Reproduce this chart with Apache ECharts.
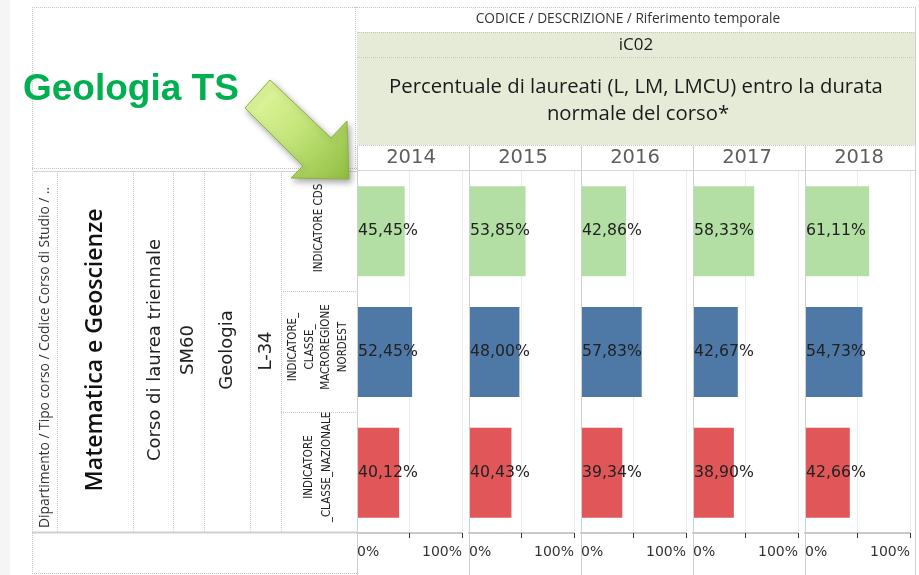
<!DOCTYPE html>
<html>
<head>
<meta charset="utf-8">
<script src="https://cdn.jsdelivr.net/npm/echarts@6/dist/echarts.min.js"></script>
<style>
html,body{margin:0;padding:0;background:#fff;}
#chart{width:919px;height:575px;}
</style>
</head>
<body>
<div id="chart"></div>
<script>
// ---- data ----
const years = ['2014', '2015', '2016', '2017', '2018'];
const indicatori = ['INDICATORE CDS', 'INDICATORE_ CLASSE_ MACROREGIONE NORDEST', 'INDICATORE _CLASSE_NAZIONALE'];
const indicatoreLabels = ['INDICATORE CDS', 'INDICATORE_\nCLASSE_\nMACROREGIONE\nNORDEST', 'INDICATORE\n_CLASSE_NAZIONALE'];
const valCDS = [45.45, 53.85, 42.86, 58.33, 61.11];
const valMacroregione = [52.45, 48.00, 57.83, 42.67, 54.73];
const valNazionale = [40.12, 40.43, 39.34, 38.90, 42.66];
const axisTickValues = [0, 50, 100];
const axisTickLabels = ['0%', '', '100%'];
const rowHeaders = ['Matematica e Geoscienze', 'Corso di laurea triennale', 'SM60', 'Geologia', 'L-34'];
const headerTitle = 'CODICE / DESCRIZIONE / Riferimento temporale';
const codice = 'iC02';
const descrizione = ['Percentuale di laureati (L, LM, LMCU) entro la durata', 'normale del corso*'];
const leftHeader = 'Dipartimento / Tipo corso / Codice Corso di Studio / ..';
const callout = 'Geologia TS';

// ---- layout / style ----
const colors = ['#b3dfa4', '#4e79a7', '#e15759'];
const colLeft0 = 357, colStep = 112, colW = 105;
const plotTop = 171, plotBottom = 533;

const chart = echarts.init(document.getElementById('chart'), null, {renderer: 'canvas'});

const grids = [], xAxes = [], yAxes = [], series = [];
years.forEach((y, i) => {
  grids.push({left: colLeft0 + colStep * i, top: plotTop, width: colW, height: plotBottom - plotTop, containLabel: false});
  xAxes.push({
    gridIndex: i, type: 'value', min: 0, max: 100, interval: 50,
    axisLine: {show: true, onZero: false, lineStyle: {color: '#c9c9c9', width: 2}},
    axisTick: {show: true, length: 5, lineStyle: {color: '#333', width: 1}},
    splitLine: {show: true, lineStyle: {color: '#ebebeb', width: 1}},
    axisLabel: {
      show: true, margin: 12, fontSize: 14, color: '#333', fontFamily: 'DejaVu Sans',
      alignMinLabel: 'left', alignMaxLabel: 'right',
      formatter: v => axisTickLabels[axisTickValues.indexOf(v)] || ''
    }
  });
  yAxes.push({
    gridIndex: i, type: 'category', data: indicatori, inverse: true,
    axisLine: {show: false}, axisTick: {show: false}, axisLabel: {show: false}, splitLine: {show: false}
  });
  const vals = [valCDS[i], valMacroregione[i], valNazionale[i]];
  series.push({
    type: 'bar', name: y, xAxisIndex: i, yAxisIndex: i, barWidth: 90,
    data: vals.map((v, k) => ({value: v, itemStyle: {color: colors[k]}})),
    label: {
      show: true, position: 'insideLeft', distance: 1,
      fontFamily: 'DejaVu Sans', fontSize: 15.7, color: '#222',
      formatter: p => p.value.toFixed(2).replace('.', ',') + '%'
    },
    z: 3
  });
});

const g = [];
const dot = '#c4c4c4';
function line(x1, y1, x2, y2, color, dash, w) {
  g.push({type: 'line', shape: {x1, y1, x2, y2}, style: {stroke: color, lineWidth: w || 1, lineDash: dash || null}, z: 5, silent: true});
}
function text(x, y, t, font, fill, align, vAlign, rot, extra) {
  g.push(Object.assign({
    type: 'text', x, y, rotation: rot || 0, z: 10, silent: true,
    style: Object.assign({text: t, font, fill, align: align || 'center', verticalAlign: vAlign || 'middle',
      textAlign: align || 'center', textVerticalAlign: vAlign || 'middle'}, extra || {})
  }));
}

// page strip on far left
g.push({type: 'rect', shape: {x: 0, y: 0, width: 10, height: 575}, style: {fill: '#f5f5f5'}, z: 1, silent: true});

// header boxes
g.push({type: 'rect', shape: {x: 357, y: 32, width: 558, height: 113}, style: {fill: '#e6ebd8'}, z: 1, silent: true});
line(357, 7.5, 915, 7.5, dot, [1, 1]);
line(357, 32.5, 915, 32.5, dot, [1, 1]);
line(357, 57.5, 915, 57.5, dot, [1, 1]);
line(357, 145.5, 915, 145.5, dot, [1, 1]);
line(357, 170.5, 915, 170.5, '#d6d6d6', null, 1);
text(628, 19, headerTitle, '13.7px "Open Sans"', '#333');
text(636, 45, codice, '17px "Open Sans"', '#1a1a1a');
text(636, 87, descrizione[0], '20.3px "Open Sans"', '#1a1a1a');
text(638, 114, descrizione[1], '20.3px "Open Sans"', '#1a1a1a');

// column separators and year labels
years.forEach((y, i) => {
  const x = colLeft0 + colStep * i + 0.5;
  line(x, 145, x, 575, '#d0d0d0', null, 1);
  text(colLeft0 + colStep * i + 54, 158, y, '19.5px "DejaVu Sans"', '#5e5e5e');
});
line(915.5, 7, 915.5, 575, '#d0d0d0', null, 1);

// left table
line(32.5, 7, 32.5, 573, dot, [1, 1]);
line(355.5, 7, 355.5, 170, dot, [1, 1]);
line(32, 7.5, 357, 7.5, dot, [1, 1]);
line(32, 168.5, 357, 168.5, dot, [1, 1]);
line(32, 171.5, 357, 171.5, '#d6d6d6', null, 1);
[57, 133, 173, 204, 250, 281].forEach(x => line(x + 0.5, 171, x + 0.5, 532, dot, [1, 1]));
line(281, 291.5, 357, 291.5, dot, [1, 1]);
line(281, 412.5, 357, 412.5, dot, [1, 1]);
line(32, 532.5, 357, 532.5, '#cfcfcf', null, 2);
line(32, 573.5, 357, 573.5, dot, [1, 1]);

const R = Math.PI / 2;
const indFont = '11.5px "DejaVu Sans Condensed", "Liberation Sans Narrow", sans-serif';
text(45, 528, leftHeader, '13.8px "Open Sans"', '#333', 'left', 'middle', R);
text(95, 350, rowHeaders[0], '600 23px "Open Sans"', '#111', 'center', 'middle', R);
text(155, 350, rowHeaders[1], '18px "DejaVu Sans"', '#222', 'center', 'middle', R);
text(188, 350, rowHeaders[2], '18px "DejaVu Sans"', '#222', 'center', 'middle', R);
text(227, 350, rowHeaders[3], '18px "DejaVu Sans"', '#222', 'center', 'middle', R);
text(266, 351, rowHeaders[4], '18px "DejaVu Sans"', '#222', 'center', 'middle', R);
text(319, 228, indicatoreLabels[0], indFont, '#222', 'center', 'middle', R);
text(318, 347, indicatoreLabels[1], indFont, '#222', 'center', 'middle', R, {lineHeight: 16.5});
text(318, 467, indicatoreLabels[2], indFont, '#222', 'center', 'middle', R, {lineHeight: 18});

// callout
text(23, 90, callout, 'bold 37px "Liberation Sans", Arial, sans-serif', '#00b050', 'left', 'middle', 0);
g.push({
  type: 'polygon', z: 20, silent: true,
  shape: {points: [[270, 80], [331, 138], [347, 121], [349, 179], [291, 178], [303, 166], [245, 108]]},
  style: {
    fill: new echarts.graphic.LinearGradient(0, 0, 1, 1, [
      {offset: 0, color: '#e8fba8'}, {offset: 0.5, color: '#c4e57a'}, {offset: 1, color: '#8fbd40'}
    ]),
    stroke: '#8db244', lineWidth: 1,
    shadowBlur: 6, shadowColor: 'rgba(0,0,0,0.35)', shadowOffsetX: 2, shadowOffsetY: 3
  }
});

chart.setOption({
  animation: false,
  backgroundColor: '#ffffff',
  grid: grids, xAxis: xAxes, yAxis: yAxes, series: series,
  graphic: {elements: g}
});
</script>
</body>
</html>
